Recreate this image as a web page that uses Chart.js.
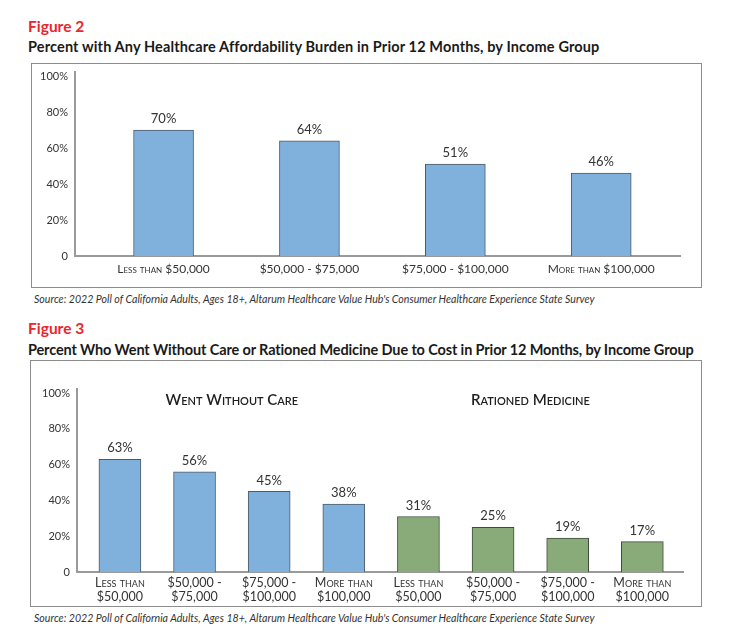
<!doctype html>
<html>
<head>
<meta charset="utf-8" />
<script src="https://cdn.jsdelivr.net/npm/chart.js"></script>
<style>
  body { margin: 0; width: 729px; height: 626px; background: #fff; font-family: Lato, sans-serif; color: #1a1a1a; position: relative; overflow: hidden; }
  .fig { position: absolute; left: 28px; color: #e8262d; font-weight: 700; font-size: 15.5px; line-height: 18px; }
  .title { position: absolute; left: 28px; font-weight: 700; font-size: 14.5px; line-height: 18px; color: #1a1a1a; white-space: nowrap; }
  .box { position: absolute; box-sizing: border-box; border: 1.5px solid #8c8c8c; }
  .wrap { position: absolute; }
  .source { position: absolute; left: 34px; font-style: italic; font-size: 10.6px; line-height: 12px; color: #333; white-space: nowrap; }
</style>
</head>
<body>
  <div class="fig" style="top:17px">Figure 2</div>
  <div class="title" style="top:38px; letter-spacing:0.14px">Percent with Any Healthcare Affordability Burden in Prior 12 Months, by Income Group</div>
  <div class="box" style="left:31px; top:63px; width:671px; height:225px"></div>
  <div class="wrap" style="left:31px; top:55px; width:671px; height:233px"><canvas id="fig2"></canvas></div>
  <div class="source" style="top:293px">Source: 2022 Poll of California Adults, Ages 18+, Altarum Healthcare Value Hub's Consumer Healthcare Experience State Survey</div>

  <div class="fig" style="top:319px">Figure 3</div>
  <div class="title" style="top:341px; letter-spacing:-0.13px">Percent Who Went Without Care or Rationed Medicine Due to Cost in Prior 12 Months, by Income Group</div>
  <div class="box" style="left:30px; top:360px; width:672px; height:247px"></div>
  <div class="wrap" style="left:30px; top:360px; width:672px; height:247px"><canvas id="fig3"></canvas></div>
  <div class="source" style="top:612px">Source: 2022 Poll of California Adults, Ages 18+, Altarum Healthcare Value Hub's Consumer Healthcare Experience State Survey</div>

<script>
const incomeGroups = ['Less than $50,000', '$50,000 - $75,000', '$75,000 - $100,000', 'More than $100,000'];
const incomeGroupsTwoLine = [['Less than', '$50,000'], ['$50,000 -', '$75,000'], ['$75,000 -', '$100,000'], ['More than', '$100,000']];
const burdenValues = [70, 64, 51, 46];
const withoutCareValues = [63, 56, 45, 38];
const rationedValues = [31, 25, 19, 17];
const groupTitles = ['Went Without Care', 'Rationed Medicine'];
const yTicks = [0, 20, 40, 60, 80, 100];

const blue = '#80b1dd';
const blueEdge = '#4d5b68';
const green = '#89aa79';
const greenEdge = '#3f4b3c';
const axisColor = '#9a9a9a';
const textColor = '#333';

const valueLabels = {
  id: 'valueLabels',
  afterDatasetsDraw(chart) {
    const ctx = chart.ctx;
    ctx.save();
    ctx.fillStyle = textColor;
    ctx.font = '13px Lato';
    ctx.textAlign = 'center';
    ctx.textBaseline = 'middle';
    chart.data.datasets.forEach((dataset, di) => {
      chart.getDatasetMeta(di).data.forEach((bar, i) => {
        ctx.fillText(dataset.data[i].y + '%', bar.x, bar.y - 11);
      });
    });
    ctx.restore();
  },
};

const groupLabels = {
  id: 'groupLabels',
  afterDraw(chart) {
    const ctx = chart.ctx;
    const bars = chart.getDatasetMeta(0).data;
    ctx.save();
    ctx.fillStyle = '#1f1f1f';
    ctx.font = 'small-caps 600 15px Lato';
    ctx.textAlign = 'center';
    ctx.textBaseline = 'middle';
    const y = chart.scales.y.getPixelForValue(100) + 7;
    ctx.fillText(groupTitles[0], (bars[0].x + bars[3].x) / 2, y);
    ctx.fillText(groupTitles[1], (bars[4].x + bars[7].x) / 2, y);
    ctx.restore();
  },
};

function yScale(width) {
  return {
    min: 0, max: 102.5,
    afterBuildTicks: (s) => { s.ticks = yTicks.map((v) => ({ value: v })); },
    afterFit: (s) => { s.width = width; },
    grid: { display: false, drawTicks: false },
    border: { display: true, color: axisColor, width: 2 },
    ticks: {
      padding: 7, color: textColor, font: { family: 'Lato', size: 11 },
      callback: (v) => (v === 0 ? '0' : v + '%'),
    },
  };
}

function xScale(labels, min, max, height, size, padding) {
  return {
    type: 'linear', min, max, offset: false,
    afterBuildTicks: (s) => { s.ticks = labels.map((_, i) => ({ value: i })); },
    afterFit: (s) => { s.height = height; },
    grid: { display: false, drawTicks: false },
    border: { display: true, color: axisColor, width: 2 },
    ticks: {
      padding, color: textColor, maxRotation: 0, autoSkip: false,
      font: { family: 'Lato', size, weight: 'small-caps 400', lineHeight: 1.12 },
      callback: (v) => labels[v],
    },
  };
}

const baseOptions = (padding, x, yWidth) => ({
  responsive: true,
  maintainAspectRatio: false,
  animation: false,
  events: [],
  layout: { padding },
  plugins: { legend: { display: false }, tooltip: { enabled: false } },
  scales: { x, y: yScale(yWidth) },
});

// Figure 2
new Chart(document.getElementById('fig2'), {
  type: 'bar',
  plugins: [valueLabels],
  data: {
    datasets: [{
      data: burdenValues.map((v, i) => ({ x: i, y: v })),
      backgroundColor: blue,
      borderColor: blueEdge,
      borderWidth: 1,
      barThickness: 60,
    }],
  },
  options: baseOptions({ top: 16.5, right: 22, left: 0, bottom: 0 },
    xScale(incomeGroups, -0.607, 3.54, 32, 12, 6), 44),
});

// Figure 3: two groups of four income bars
const fig3Labels = incomeGroupsTwoLine.concat(incomeGroupsTwoLine);
const fig3Values = withoutCareValues.concat(rationedValues);
new Chart(document.getElementById('fig3'), {
  type: 'bar',
  plugins: [valueLabels, groupLabels],
  data: {
    datasets: [{
      data: fig3Values.map((v, i) => ({ x: i, y: v })),
      backgroundColor: withoutCareValues.map(() => blue).concat(rationedValues.map(() => green)),
      borderColor: withoutCareValues.map(() => blueEdge).concat(rationedValues.map(() => greenEdge)),
      borderWidth: 1,
      barThickness: 42,
    }],
  },
  options: baseOptions({ top: 28.5, right: 19, left: 0, bottom: 0 },
    xScale(fig3Labels, -0.575, 7.545, 35, 12.5, 4), 47),
});
</script>
</body>
</html>
